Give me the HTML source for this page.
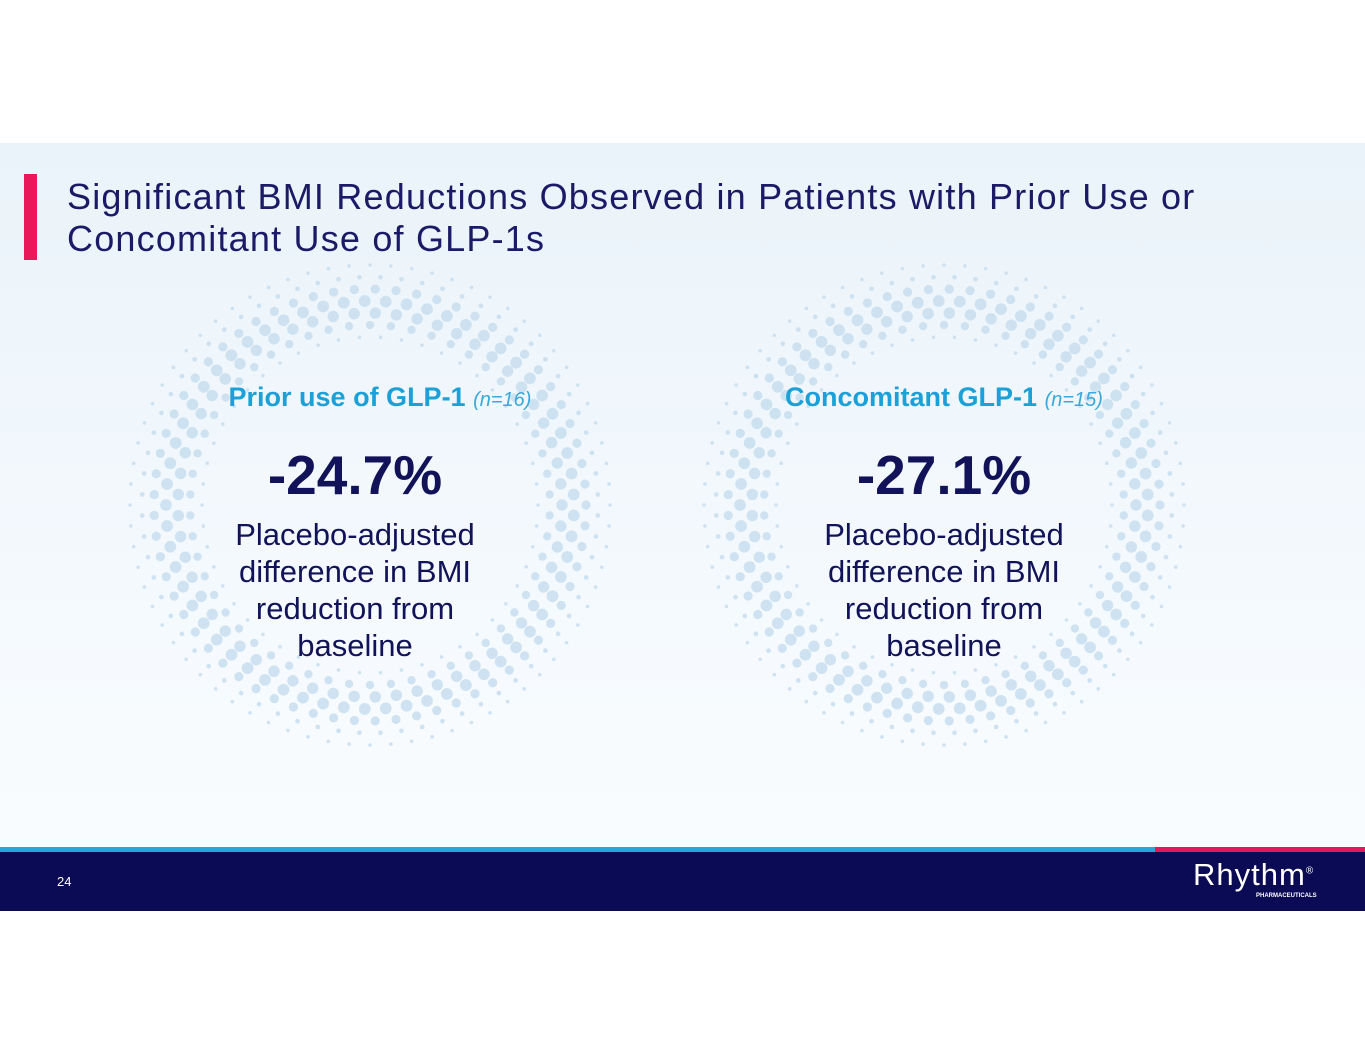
<!DOCTYPE html>
<html><head><meta charset="utf-8">
<style>
body{margin:0;width:1365px;height:1055px;background:#fff;position:relative;overflow:hidden;font-family:"Liberation Sans",sans-serif}
.slide{position:absolute;left:0;top:143px;width:1365px;height:768px;background:linear-gradient(#eaf3fa,#f7fbfe 75%,#fafcfe)}
.bar{position:absolute;left:24px;top:31px;width:13px;height:86px;background:#e8185a}
.title{position:absolute;left:67px;top:33px;font-size:36px;line-height:42px;color:#1a1a66;letter-spacing:1.2px}
.panel{position:absolute;top:0;width:600px;text-align:center;color:#121258}
.h{position:absolute;top:239px;width:100%;font-weight:bold;font-size:27px;color:#1ba0d8}
.h i{font-weight:normal;font-size:20px;color:#3aa8d8}
.num{position:absolute;top:300px;width:100%;font-weight:bold;font-size:55px}
.desc{position:absolute;top:373px;width:100%;font-size:31px;line-height:37px}
.foot{position:absolute;left:0;top:709px;width:1365px;height:59px;background:#0b0a55}
.blue{position:absolute;left:0;top:704px;width:1155px;height:5px;background:#26a6dc}
.pink{position:absolute;left:1155px;top:704px;width:210px;height:5px;background:#e3185a}
</style></head><body>
<div class="slide">
<svg id="dots" width="1365" height="768" style="position:absolute;left:0;top:0"></svg>
<div class="bar"></div>
<div class="title">Significant BMI Reductions Observed in Patients with Prior Use or<br>Concomitant Use of GLP-1s</div>
<div class="panel" style="left:80px">
<div class="h" style="left:0px">Prior use of GLP-1 <i>(n=16)</i></div>
<div class="num" style="left:-25px">-24.7%</div>
<div class="desc" style="left:-25px">Placebo-adjusted<br>difference in BMI<br>reduction from<br>baseline</div>
</div>
<div class="panel" style="left:644px">
<div class="h" style="left:0px">Concomitant GLP-1 <i>(n=15)</i></div>
<div class="num" style="left:0px">-27.1%</div>
<div class="desc" style="left:0px">Placebo-adjusted<br>difference in BMI<br>reduction from<br>baseline</div>
</div>
<div class="blue"></div>
<div class="pink"></div>
<div class="foot">
<div style="position:absolute;left:57px;top:22px;color:#fff;font-size:13px">24</div>
<div style="position:absolute;left:1193px;top:5px;color:#fff;font-size:31px;letter-spacing:1px">Rhythm<sup style="font-size:10px">®</sup></div>
<div style="position:absolute;left:1256px;top:41px;color:#fff;font-size:6px;font-weight:bold">PHARMACEUTICALS</div>
</div>
</div>
<script>
var svg=document.getElementById('dots');
var centers=[[370,362],[944,362]];
centers.forEach(function(c){
  for(var k=0;k<7;k++){
    var r=168+k*12;
    var t=k/6, size=1.8+4.2*Math.sin(Math.PI*Math.min(1,t*1.15));
    var n=Math.round(2*Math.PI*r/21);
    for(var j=0;j<n;j++){
      var a=(j+(k%2)*0.5)/n*2*Math.PI;
      var e=document.createElementNS('http://www.w3.org/2000/svg','circle');
      
      
      e.setAttribute('cx',c[0]+r*Math.cos(a));
      e.setAttribute('cy',c[1]+r*Math.sin(a));
      e.setAttribute('r',size);
      e.setAttribute('fill','#c4dcee');
      e.setAttribute('opacity',0.8);
      svg.appendChild(e);
    }
  }
});
</script>
</body></html>
